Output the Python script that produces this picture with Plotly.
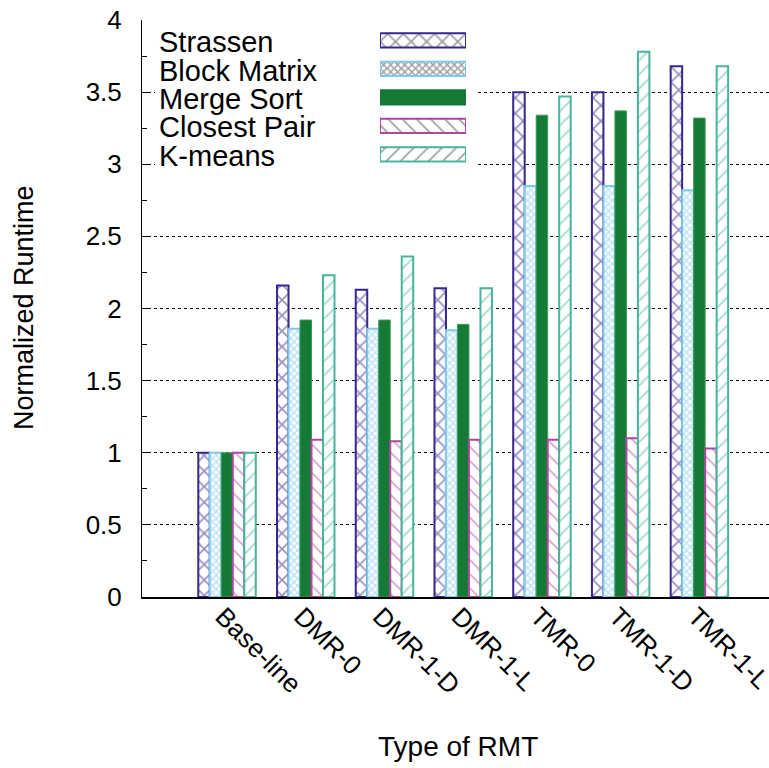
import plotly.graph_objects as go

categories = ["Base-line", "DMR-0", "DMR-1-D", "DMR-1-L", "TMR-0", "TMR-1-D", "TMR-1-L"]
series_names = ["Strassen", "Block Matrix", "Merge Sort", "Closest Pair", "K-means"]
strassen = [1.00, 2.16, 2.13, 2.14, 3.50, 3.50, 3.68]
block_matrix = [1.00, 1.86, 1.86, 1.85, 2.85, 2.85, 2.82]
merge_sort = [1.00, 1.92, 1.92, 1.89, 3.34, 3.37, 3.32]
closest_pair = [1.00, 1.09, 1.08, 1.09, 1.09, 1.10, 1.03]
kmeans = [1.00, 2.23, 2.36, 2.14, 3.47, 3.78, 3.68]
y_ticks = [0, 0.5, 1, 1.5, 2, 2.5, 3, 3.5, 4]
y_tick_text = ["0", "0.5", "1", "1.5", "2", "2.5", "3", "3.5", "4"]

values = [strassen, block_matrix, merge_sort, closest_pair, kmeans]
colors = ["#34288f", "#80c9ee", "#157a36", "#ad479f", "#46b59b"]
patterns = ["x", "x", "", "\\", "/"]
psizes = [11, 5, 8, 10, 10]
psolid = [0.3, 0.5, 0.2, 0.18, 0.18]

FONT = "Liberation Sans, Arial, Helvetica, sans-serif"
W, H = 769, 768
L, R, T, B = 142, 0, 20, 171

fig = go.Figure()
for name, vals, c, p, s, so in zip(series_names, values, colors, patterns, psizes, psolid):
    if p:
        marker = dict(color="white", line=dict(color=c, width=2),
                      pattern=dict(shape=p, fgcolor=c, size=s, solidity=so, fillmode="overlay"))
    else:
        marker = dict(color=c, line=dict(color="#3f9a5a", width=1))
    fig.add_trace(go.Bar(x=categories, y=vals, name=name, marker=marker,
                         showlegend=False, xaxis="x", yaxis="y"))

# custom legend samples (gnuplot style: text left, sample right)
fig.add_trace(go.Bar(
    y=series_names, x=[1] * len(series_names), orientation="h", width=0.5,
    marker=dict(color=["white", "white", colors[2], "white", "white"],
                line=dict(color=colors, width=2),
                pattern=dict(shape=patterns, fgcolor=colors, size=psizes,
                             solidity=psolid, fillmode="overlay")),
    showlegend=False, xaxis="x2", yaxis="y2", hoverinfo="skip"))

plot_w = W - L - R
plot_h = H - T - B

def fx(px):
    return (px - L) / plot_w

def fy(py):
    return (H - B - py) / plot_h

annotations = []
row_y = [42, 70.5, 99, 127.5, 156]
for name, ry in zip(series_names, row_y):
    annotations.append(dict(text=name, xref="paper", yref="paper", x=fx(157), y=fy(ry),
                            xanchor="left", yanchor="middle", showarrow=False,
                            font=dict(family=FONT, size=29, color="black")))

annotations.append(dict(text="Normalized Runtime", xref="paper", yref="paper",
                        x=fx(24), y=fy(308), textangle=-90, showarrow=False,
                        xanchor="center", yanchor="middle",
                        font=dict(family=FONT, size=27, color="black")))
annotations.append(dict(text="Type of RMT", xref="paper", yref="paper",
                        x=fx(458), y=fy(746), showarrow=False,
                        xanchor="center", yanchor="middle",
                        font=dict(family=FONT, size=28, color="black")))

# white box behind the key (hides grid), in category/value units of the main axes
key_x0, key_x1 = -0.915, 3.16
key_y0, key_y1 = 2.96, 4.0

fig.update_layout(
    width=W, height=H,
    margin=dict(l=L, r=R, t=T, b=B, autoexpand=False),
    paper_bgcolor="white", plot_bgcolor="white",
    barmode="group", bargap=0.27, bargroupgap=0,
    font=dict(family=FONT, size=26, color="black"),
    xaxis=dict(type="category", range=[-1.08, 6.884], tickangle=45,
               showline=True, linecolor="black", linewidth=1.5,
               ticks="", showgrid=False, zeroline=False, automargin=False,
               ticklabelstandoff=-8, ticklabelshift=-4,
               tickfont=dict(family=FONT, size=26, color="black")),
    yaxis=dict(range=[0, 4], tickvals=y_ticks, ticktext=y_tick_text,
               showline=True, linecolor="black", linewidth=1,
               ticks="inside", ticklen=9, tickcolor="black",
               minor=dict(ticks="inside", ticklen=5, dtick=0.25, tickcolor="black", showgrid=False),
               showgrid=True, gridcolor="black", griddash="dot", gridwidth=1,
               zeroline=False, ticklabelstandoff=14, automargin=False,
               tickfont=dict(family=FONT, size=26, color="black")),
    xaxis2=dict(domain=[fx(380), fx(466)], range=[0, 1], visible=False, anchor="y2"),
    yaxis2=dict(domain=[fy(168.5), fy(26)], type="category", autorange="reversed",
                visible=False, anchor="x2"),
    annotations=annotations,
    shapes=[dict(type="rect", xref="x", yref="y", layer="between",
                 x0=key_x0, x1=key_x1, y0=key_y0, y1=key_y1,
                 fillcolor="white", line=dict(width=0))],
)

fig.write_html("out.html")
